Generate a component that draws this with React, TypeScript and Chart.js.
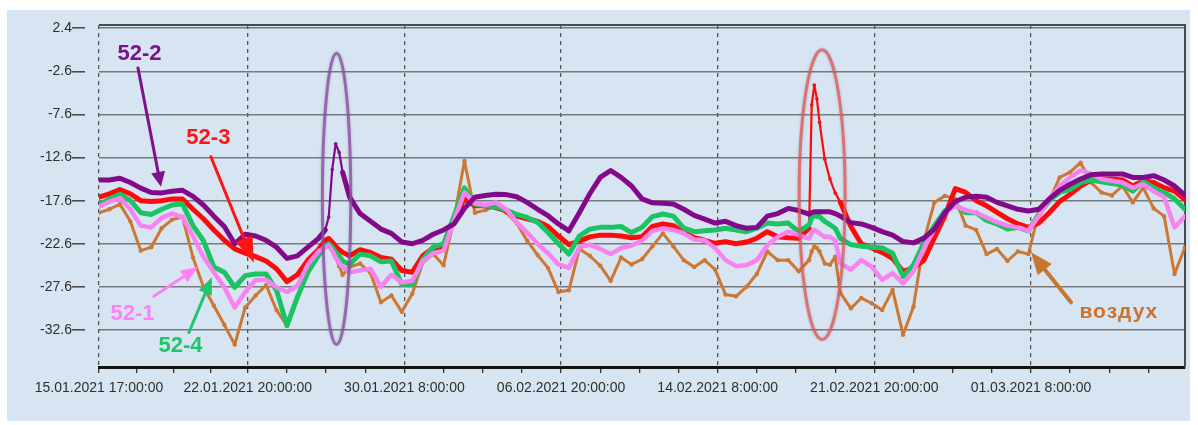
import { useEffect, useRef } from 'react';
import { Chart, registerables } from 'chart.js';

Chart.register(...registerables);

// hours since 15.01.2021 17:00:00
const hours = [
  0, 12, 24, 36, 48, 60, 72, 84, 96, 108, 120, 132, 144, 156, 168, 180, 192, 204, 216, 228, 240, 252,
  260, 264, 268, 272, 276, 280, 288, 300, 312, 324, 336, 348, 360, 372, 384, 396, 408, 420, 432, 444,
  456, 468, 480, 492, 504, 516, 528, 540, 552, 564, 576, 588, 600, 612, 624, 636, 648, 660, 672, 684,
  696, 708, 720, 732, 744, 756, 768, 780, 792, 804, 816, 819, 822, 825, 828, 834, 840, 846, 852, 864,
  876, 888, 900, 912, 924, 936, 948, 960, 972, 984, 996, 1008, 1020, 1032, 1044, 1056, 1068, 1080,
  1092, 1104, 1116, 1128, 1140, 1152, 1164, 1176, 1188, 1200, 1212, 1224, 1236, 1248,
];

const s52_2 = [
  -15.2, -15.2, -15.0, -15.5, -16.15, -16.65, -16.7, -16.5, -16.4, -17.1, -18.1, -19.4, -20.6, -22.6, -21.5, -21.7, -22.2, -23.0, -24.3, -24.0, -23.0, -22.0,
  -21.0, -19.5, -14.0, -11.0, -12.0, -14.3, -17.2, -19.1, -20.0, -20.9, -21.4, -22.4, -22.6, -22.2, -21.5, -21.0, -20.3, -18.5, -17.2, -17.0,
  -16.85, -16.9, -17.15, -17.8, -18.6, -19.35, -20.3, -21.1, -19.0, -16.8, -14.9, -14.1, -14.9, -15.9, -17.4, -17.85, -17.9, -18.0, -18.6, -19.3,
  -19.75, -20.2, -20.0, -20.5, -20.8, -20.7, -19.4, -19.1, -18.5, -18.75, -19.15, -19.0, -18.9, -18.9, -18.9, -18.9, -18.9, -19.1, -19.4, -20.15,
  -20.3, -20.7, -21.2, -21.6, -22.35, -22.5, -21.95, -20.9, -19.0, -17.7, -17.2, -17.1, -17.2, -17.8, -18.2, -18.6, -18.8, -18.6,
  -17.4, -16.4, -15.7, -15.1, -14.6, -14.5, -14.5, -14.5, -14.9, -14.9, -14.7, -15.2, -15.9, -17.0,
];

const s52_3 = [
  -17.2, -16.8, -16.3, -16.8, -17.6, -17.7, -17.6, -17.4, -17.4, -18.6, -19.7, -21.0, -22.2, -23.2, -23.7, -24.1, -24.6, -25.5, -27.0, -26.2, -24.5, -23.3,
  -22.2, -22.0, -22.4, -22.9, -23.3, -23.6, -24.0, -23.3, -23.6, -24.2, -24.4, -25.7, -25.9, -24.0, -23.1, -23.2, -19.7, -17.4, -18.2, -18.2,
  -18.4, -18.8, -19.4, -19.7, -20.0, -20.6, -21.7, -22.7, -22.3, -21.8, -21.6, -21.6, -21.7, -21.9, -21.8, -20.6, -20.3, -20.5, -21.3, -21.9,
  -22.2, -22.55, -22.35, -22.6, -22.4, -21.96, -21.2, -21.8, -21.9, -21.96, -20.8, -6.5, -4.2, -5.8, -8.5, -12.8, -15.1, -16.7, -17.8, -20.6,
  -22.6, -23.1, -23.6, -24.3, -25.8, -25.4, -24.5, -21.9, -19.4, -16.2, -16.65, -17.6, -18.2, -18.97, -19.7, -20.3, -20.7, -20.2,
  -19.0, -17.7, -16.85, -15.9, -15.2, -15.1, -15.1, -15.2, -15.9, -15.3, -15.5, -16.1, -16.5, -17.5,
];

const s52_4 = [
  -18.1, -17.4, -16.85, -17.6, -19.0, -19.2, -18.6, -18.1, -18.0, -20.5, -22.25, -25.3, -25.9, -27.65, -26.3, -26.1, -26.1, -28.0, -32.1, -28.8, -25.9, -24.0,
  -22.8, -22.6, -23.0, -23.6, -24.0, -24.6, -25.0, -23.8, -24.0, -24.7, -24.6, -27.3, -27.3, -24.4, -23.0, -22.6, -19.4, -16.1, -18.0, -18.2,
  -18.3, -18.7, -19.2, -19.55, -20.1, -21.3, -22.6, -23.8, -21.7, -20.9, -20.7, -20.7, -20.6, -21.3, -20.7, -19.45, -19.15, -19.4, -20.8, -21.2,
  -21.1, -21.0, -20.8, -21.0, -21.2, -20.8, -20.2, -20.3, -20.2, -21.2, -20.4, -19.6, -19.3, -19.45, -19.45, -20.0, -20.4, -20.8, -22.0, -22.7,
  -22.9, -23.0, -23.1, -23.7, -26.4, -25.05, -22.5, -20.5, -18.8, -18.1, -19.0, -19.0, -19.9, -20.3, -20.9, -20.7, -21.1, -19.2,
  -17.6, -16.65, -16.3, -15.5, -15.2, -15.4, -15.6, -15.8, -16.5, -15.4, -16.1, -16.65, -17.4, -18.6,
];

const s52_1 = [
  -18.3, -17.7, -17.3, -18.6, -20.5, -20.7, -19.6, -19.1, -19.5, -21.7, -24.1, -25.9, -27.65, -30.0, -28.2, -26.8, -26.8, -27.65, -28.2, -27.5, -25.0, -23.5,
  -23.0, -22.8, -23.4, -24.2, -24.8, -25.3, -25.9, -25.7, -25.5, -27.6, -26.2, -27.1, -26.9, -24.6, -23.7, -23.4, -19.9, -16.65, -17.9, -18.1,
  -17.8, -18.6, -20.1, -21.3, -22.6, -23.7, -25.0, -25.4, -23.0, -22.7, -23.2, -23.8, -23.1, -22.8, -22.25, -21.1, -20.8, -21.0, -21.4, -22.1,
  -22.2, -23.1, -24.5, -25.2, -25.1, -24.5, -22.8, -21.8, -21.2, -21.6, -22.0, -21.4, -21.0, -21.2, -21.4, -21.8, -21.8, -22.2, -24.9, -25.6,
  -24.5, -25.25, -26.8, -26.0, -27.2, -25.8, -23.1, -20.9, -19.0, -18.2, -18.7, -19.0, -19.55, -20.1, -20.5, -20.7, -21.1, -19.4,
  -17.4, -15.9, -14.9, -14.1, -14.5, -15.1, -15.3, -15.5, -16.1, -15.7, -16.5, -17.2, -20.7, -19.4,
];

const air = [
  -19.0, -18.6, -18.0, -20.0, -23.4, -23.0, -20.8, -19.8, -19.5, -24.2, -27.6, -29.8, -32.0, -34.3, -30.0, -28.6, -27.4, -30.3, -32.1, -28.8, -25.3, -23.5,
  -22.3, -22.4, -23.2, -24.2, -25.2, -26.2, -25.3, -24.9, -26.0, -29.4, -28.6, -30.5, -28.4, -24.8, -23.8, -25.1, -19.7, -13.0, -19.0, -18.7,
  -18.2, -19.0, -20.2, -22.25, -23.9, -25.4, -28.2, -28.0, -23.2, -24.0, -25.15, -26.9, -24.2, -25.0, -24.4, -22.9, -21.4, -22.9, -24.5, -25.3,
  -24.5, -25.6, -28.5, -28.7, -27.6, -26.1, -23.5, -24.5, -24.5, -25.8, -24.5, -23.5, -22.9, -23.1, -23.5, -24.9, -25.05, -24.1, -28.3, -30.1,
  -28.9, -29.5, -30.3, -27.95, -33.15, -29.9, -22.2, -17.8, -17.05, -17.4, -20.5, -21.0, -23.8, -23.2, -24.6, -23.5, -23.8, -19.0,
  -17.6, -14.9, -14.3, -13.2, -15.5, -16.65, -17.0, -15.9, -17.8, -16.1, -18.5, -19.4, -26.1, -23.0,
];

const xMajorHours = [0, 171, 351, 531, 711, 891, 1071];
const xMajorLabels = [
  '15.01.2021 17:00:00',
  '22.01.2021 20:00:00',
  '30.01.2021 8:00:00',
  '06.02.2021 20:00:00',
  '14.02.2021 8:00:00',
  '21.02.2021 20:00:00',
  '01.03.2021 8:00:00',
];
const yTickValues = [2.4, -2.6, -7.6, -12.6, -17.6, -22.6, -27.6, -32.6];

const noteTexts = ['52-2', '52-3', '52-1', '52-4', 'воздух'];
const noteColors = ['#7e118c', '#ff1414', '#ff80f6', '#1ec56a', '#c87530'];
const noteHours = [46.5, 125.7, 38.5, 93.6, 1172];
const noteValues = [-0.6, -10.35, -30.8, -34.5, -30.5];
const arrowFromHours = [44.8, 128.6, 63.1, 103.3, 1117];
const arrowFromValues = [-2.2, -12.5, -28.7, -32.9, -29.4];
const arrowToHours = [71.2, 177.9, 113.6, 129.7, 1071];
const arrowToValues = [-16.0, -24.8, -25.3, -26.5, -23.6];

const ringHours = [273, 831];
const ringValues = [-17.4, -16.9];
const ringHalfHours = [16.3, 26.4];
const ringHalfValues = [16.9, 16.8];
const ringColors = ['rgba(140,80,165,0.8)', 'rgba(228,92,92,0.8)'];

const X_MIN = 0;
const X_MAX = 1248;
const Y_MIN = -36.9;
const Y_MAX = 2.78;

const BG = 'rgb(215,228,241)';
const FONT = "'Liberation Sans', Arial, sans-serif";

function buildXTicks(): number[] {
  const out: number[] = [];
  for (let i = 0; i < xMajorHours.length; i++) {
    const a = xMajorHours[i];
    out.push(a);
    const b = i + 1 < xMajorHours.length ? xMajorHours[i + 1] : null;
    if (b !== null) {
      for (let k = 1; k < 4; k++) out.push(a + ((b - a) * k) / 4);
    } else {
      for (let t = a + 45; t < X_MAX; t += 45) out.push(t);
    }
  }
  return out;
}
const xTicks = buildXTicks();
const isMajor = (v: number | undefined) => v !== undefined && xMajorHours.indexOf(v) >= 0;

// inside the highlighted ring for a given ring index
const inRing = (h: number, r: number) => Math.abs(h - ringHours[r]) <= ringHalfHours[r] * 0.85;

function drawArrow(
  ctx: CanvasRenderingContext2D,
  x0: number, y0: number, x1: number, y1: number,
  color: string, lw: number, headLen: number, headW: number
) {
  const ang = Math.atan2(y1 - y0, x1 - x0);
  const bx = x1 - headLen * Math.cos(ang);
  const by = y1 - headLen * Math.sin(ang);
  ctx.save();
  ctx.strokeStyle = color;
  ctx.lineWidth = lw;
  ctx.lineCap = 'round';
  ctx.beginPath();
  ctx.moveTo(x0, y0);
  ctx.lineTo(bx, by);
  ctx.stroke();
  ctx.fillStyle = color;
  ctx.beginPath();
  ctx.moveTo(x1, y1);
  ctx.lineTo(bx + headW * Math.sin(ang), by - headW * Math.cos(ang));
  ctx.lineTo(bx - headW * Math.sin(ang), by + headW * Math.cos(ang));
  ctx.closePath();
  ctx.fill();
  ctx.restore();
}

const bgPlugin = {
  id: 'bgPlugin',
  beforeDraw(chart: any) {
    const { ctx, width, height } = chart;
    ctx.save();
    ctx.fillStyle = BG;
    ctx.fillRect(0, 0, width, height);
    ctx.restore();
  },
  beforeDatasetsDraw(chart: any) {
    const { ctx, chartArea } = chart;
    ctx.save();
    ctx.strokeStyle = '#4a4a4a';
    ctx.lineWidth = 2;
    ctx.beginPath();
    ctx.moveTo(chartArea.left, chartArea.top);
    ctx.lineTo(chartArea.right, chartArea.top);
    ctx.lineTo(chartArea.right, chartArea.bottom);
    ctx.stroke();
    ctx.restore();
  },
};

const notesPlugin = {
  id: 'notesPlugin',
  afterDatasetsDraw(chart: any) {
    const { ctx } = chart;
    const xs = chart.scales.x;
    const ys = chart.scales.y;
    for (let i = 0; i < ringHours.length; i++) {
      const cx = xs.getPixelForValue(ringHours[i]);
      const cy = ys.getPixelForValue(ringValues[i]);
      const rx = Math.abs(xs.getPixelForValue(ringHours[i] + ringHalfHours[i]) - cx);
      const ry = Math.abs(ys.getPixelForValue(ringValues[i] + ringHalfValues[i]) - cy);
      ctx.save();
      ctx.strokeStyle = ringColors[i];
      ctx.lineWidth = 3;
      ctx.shadowColor = 'rgba(0,0,0,0.25)';
      ctx.shadowBlur = 3;
      ctx.beginPath();
      ctx.ellipse(cx, cy, rx, ry, 0, 0, Math.PI * 2);
      ctx.stroke();
      ctx.restore();
    }
    const heads = [[15, 7], [26, 9], [17, 7], [17, 7], [22, 9]];
    const widths = [3, 3, 3, 3, 4];
    for (let i = 0; i < arrowFromHours.length; i++) {
      drawArrow(
        ctx,
        xs.getPixelForValue(arrowFromHours[i]), ys.getPixelForValue(arrowFromValues[i]),
        xs.getPixelForValue(arrowToHours[i]), ys.getPixelForValue(arrowToValues[i]),
        noteColors[i], widths[i], heads[i][0], heads[i][1]
      );
    }
    for (let i = 0; i < noteTexts.length; i++) {
      ctx.save();
      ctx.fillStyle = noteColors[i];
      ctx.textAlign = 'center';
      ctx.textBaseline = 'middle';
      if (i === 4) {
        ctx.font = `bold 21px ${FONT}`;
        (ctx as any).letterSpacing = '1px';
      } else {
        ctx.font = `bold 22px ${FONT}`;
      }
      ctx.fillText(noteTexts[i], xs.getPixelForValue(noteHours[i]), ys.getPixelForValue(noteValues[i]));
      ctx.restore();
    }
  },
};

function pts(vals: number[]) {
  return hours.map((h, i) => ({ x: h, y: vals[i] }));
}

export default function App() {
  const ref = useRef<HTMLCanvasElement | null>(null);

  useEffect(() => {
    if (!ref.current) return;
    const thinIn = (r: number) => (c: any) => {
      const h0 = c.p0.parsed.x;
      const h1 = c.p1.parsed.x;
      return inRing(h0, r) && inRing(h1, r) ? 2.2 : undefined;
    };
    const dotIn = (r: number) => (c: any) => (c.raw && inRing(c.raw.x, r) ? 1.8 : 0);
    const common = { pointRadius: 0, tension: 0, borderCapStyle: 'round', borderJoinStyle: 'round', pointBorderWidth: 0 };
    const chart = new Chart(ref.current, {
      type: 'line',
      data: {
        datasets: [
          {
            ...common, label: '52-2', data: pts(s52_2), borderColor: '#820a8a', borderWidth: 5,
            segment: { borderWidth: thinIn(0) }, pointRadius: dotIn(0), pointBackgroundColor: '#820a8a',
          },
          { ...common, label: '52-1', data: pts(s52_1), borderColor: '#f782f0', borderWidth: 4.5 },
          { ...common, label: '52-4', data: pts(s52_4), borderColor: '#1cc363', borderWidth: 5 },
          {
            ...common, label: '52-3', data: pts(s52_3), borderColor: '#ff0a0a', borderWidth: 5,
            segment: { borderWidth: thinIn(1) }, pointRadius: dotIn(1), pointBackgroundColor: '#ff0a0a',
          },
          {
            ...common, label: 'воздух', data: pts(air), borderColor: '#cc7834', borderWidth: 3,
            pointRadius: 2.2, pointBackgroundColor: '#cc7834',
          },
        ] as any,
      },
      options: {
        responsive: false,
        animation: false,
        events: [],
        layout: { padding: { top: 15, right: 5, left: 0, bottom: 0 } },
        plugins: { legend: { display: false }, tooltip: { enabled: false } },
        scales: {
          x: {
            type: 'linear',
            min: X_MIN,
            max: X_MAX,
            afterBuildTicks: (s: any) => { s.ticks = xTicks.map((v) => ({ value: v })); },
            afterFit: (s: any) => { s.height = 54; },
            ticks: {
              autoSkip: false,
              maxRotation: 0,
              minRotation: 0,
              padding: 7,
              color: '#2e2e2e',
              font: { family: FONT, size: 14 },
              callback: (v: any) => {
                const idx = xMajorHours.indexOf(Number(v));
                return idx >= 0 ? xMajorLabels[idx] : '';
              },
            },
            grid: {
              color: (c: any) => (isMajor(c.tick?.value) ? '#555' : 'rgba(0,0,0,0)'),
              lineWidth: 1.3,
              tickLength: 6,
              tickColor: '#333',
              tickWidth: 1.3,
            },
            border: { display: true, color: '#111', width: 3, dash: [4, 4] },
          },
          y: {
            type: 'linear',
            min: Y_MIN,
            max: Y_MAX,
            afterBuildTicks: (s: any) => { s.ticks = yTickValues.map((v) => ({ value: v })); },
            afterFit: (s: any) => { s.width = 92; },
            ticks: {
              padding: 0,
              color: '#2e2e2e',
              font: { family: FONT, size: 14 },
              callback: (v: any) => Number(v).toFixed(1),
            },
            grid: {
              color: 'rgba(95,95,95,0.8)',
              lineWidth: 1.6,
              tickLength: 27,
              tickColor: '#444',
              tickWidth: 1.5,
              tickBorderDash: [13, 14],
            },
            border: { display: false },
          },
        },
      } as any,
      plugins: [bgPlugin, notesPlugin],
    });
    return () => chart.destroy();
  }, []);

  return (
    <div style={{ position: 'absolute', left: 0, top: 0, width: 1198, height: 425, background: '#fff' }}>
      <canvas
        ref={ref}
        width={1183}
        height={411}
        style={{ position: 'absolute', left: 7, top: 10, width: 1183, height: 411 }}
      />
    </div>
  );
}
